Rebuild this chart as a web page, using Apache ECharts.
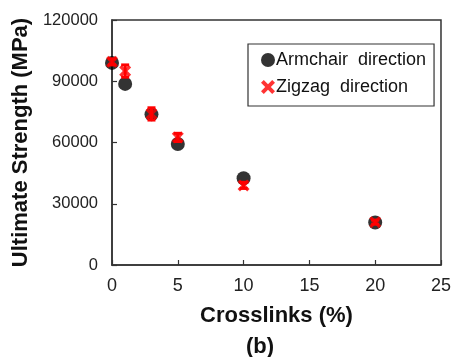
<!DOCTYPE html>
<html>
<head>
<meta charset="utf-8">
<script src="https://cdn.jsdelivr.net/npm/echarts@6/dist/echarts.min.js"></script>
<style>
  html, body { margin: 0; padding: 0; background: #fff; }
  #chart { width: 454px; height: 357px; }
</style>
</head>
<body>
<div id="chart"></div>
<script>
// Crosslink content (%)
const crosslinks = [0, 1, 3, 5, 10, 20];
// Ultimate strength (MPa) along each direction
const armchairStrength = [99000, 88700, 73800, 59300, 42500, 20800];
const zigzagStrength   = [99500, 95000, 74000, 62500, 39000, 21000];
// Standard deviation of the zigzag values
const zigzagError      = [1500, 3000, 3000, 2000, 1500, 1000];

const xTicks = { min: 0, max: 25, interval: 5 };
const yTicks = { min: 0, max: 120000, interval: 30000 };

const FONT = 'Liberation Sans, Arial, sans-serif';
const crossPath = 'path://M0,2 L2,0 L5,3 L8,0 L10,2 L7,5 L10,8 L8,10 L5,7 L2,10 L0,8 L3,5 Z';

const chart = echarts.init(document.getElementById('chart'));

chart.setOption({
  animation: false,
  backgroundColor: '#fff',
  grid: { left: 112, right: 12, top: 20, bottom: 92, show: true, borderColor: '#333', borderWidth: 1.5 },
  xAxis: {
    type: 'value', min: xTicks.min, max: xTicks.max, interval: xTicks.interval,
    name: 'Crosslinks (%)', nameLocation: 'middle', nameGap: 40,
    nameTextStyle: { fontFamily: FONT, fontSize: 22, fontWeight: 'bold', color: '#111' },
    axisLine: { lineStyle: { color: '#333', width: 1.5 } },
    axisTick: { inside: true, length: 5, lineStyle: { color: '#333', width: 1.2 } },
    axisLabel: { fontFamily: FONT, fontSize: 18, color: '#222', margin: 12 },
    splitLine: { show: false }
  },
  yAxis: {
    type: 'value', min: yTicks.min, max: yTicks.max, interval: yTicks.interval,
    name: 'Ultimate Strength (MPa)', nameLocation: 'middle', nameGap: 78,
    nameTextStyle: { fontFamily: FONT, fontSize: 22, fontWeight: 'bold', color: '#111' },
    axisLine: { lineStyle: { color: '#333', width: 1.5 } },
    axisTick: { inside: true, length: 5, lineStyle: { color: '#333', width: 1.2 } },
    axisLabel: { fontFamily: FONT, fontSize: 16.5, color: '#222', margin: 14, formatter: v => String(v) },
    splitLine: { show: false }
  },
  legend: {
    orient: 'vertical', left: 248, top: 44,
    padding: [6, 8, 9, 13], itemGap: 7, itemWidth: 14, itemHeight: 14,
    borderColor: '#333', borderWidth: 1.2,
    textStyle: { fontFamily: FONT, fontSize: 18, lineHeight: 20, color: '#111', padding: [0, 0, 0, -4] },
    data: [
      { name: 'Armchair  direction', icon: 'circle' },
      { name: 'Zigzag  direction', icon: crossPath }
    ]
  },
  series: [
    {
      name: 'Armchair  direction', type: 'scatter', symbol: 'circle', symbolSize: 14,
      itemStyle: { color: '#000' }, z: 2,
      data: crosslinks.map((c, i) => [c, armchairStrength[i]])
    },
    {
      name: 'zigzagError', type: 'custom', z: 3, silent: true,
      data: crosslinks.map((c, i) => [c, zigzagStrength[i] - zigzagError[i], zigzagStrength[i] + zigzagError[i]]),
      renderItem: function (params, api) {
        const lo = api.coord([api.value(0), api.value(1)]);
        const hi = api.coord([api.value(0), api.value(2)]);
        const w = 4;
        const style = { stroke: '#f00', lineWidth: 3 };
        return {
          type: 'group',
          children: [
            { type: 'line', shape: { x1: lo[0], y1: lo[1], x2: hi[0], y2: hi[1] }, style: style },
            { type: 'line', shape: { x1: lo[0] - w, y1: lo[1], x2: lo[0] + w, y2: lo[1] }, style: style },
            { type: 'line', shape: { x1: hi[0] - w, y1: hi[1], x2: hi[0] + w, y2: hi[1] }, style: style }
          ]
        };
      }
    },
    {
      name: 'Zigzag  direction', type: 'scatter', symbol: crossPath, symbolSize: 12,
      itemStyle: { color: '#f00' }, z: 4,
      data: crosslinks.map((c, i) => [c, zigzagStrength[i]])
    }
  ],
  graphic: [
    {
      type: 'text', x: 260, y: 347,
      style: { text: '(b)', font: 'bold 22px ' + FONT, fill: '#111', textAlign: 'center', textVerticalAlign: 'middle' }
    }
  ]
});
</script>
</body>
</html>
